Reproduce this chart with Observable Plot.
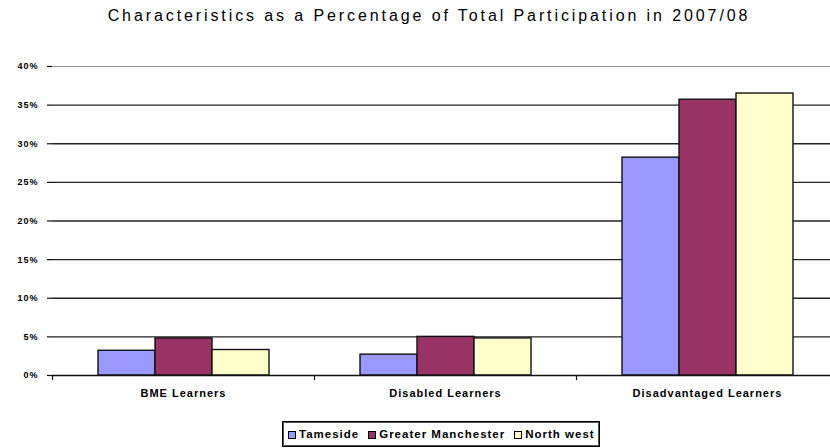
<!DOCTYPE html>
<html>
<head>
<meta charset="utf-8">
<script src="https://cdn.jsdelivr.net/npm/d3@7"></script>
<script src="https://cdn.jsdelivr.net/npm/@observablehq/plot@0.6"></script>
<style>
  html, body { margin: 0; padding: 0; background: #fff; overflow: hidden; }
  body { width: 830px; height: 448px; position: relative; font-family: "Liberation Sans", Arial, sans-serif; }
  #title { position: absolute; left: 14px; top: 7px; width: 830px; text-align: center; font-size: 16px; letter-spacing: 2.9px; color: #000; white-space: nowrap; }
  #chart { position: absolute; left: 0; top: 40px; }
  #legend { position: absolute; left: 282px; top: 421px; height: 24px; border: 1px solid #000; box-shadow: inset 0 0 0 1px #555; display: flex; align-items: center; padding: 0 4px 0 5px; font-weight: bold; font-size: 11.5px; letter-spacing: 1px; white-space: nowrap; }
  #legend .item { display: flex; align-items: flex-end; margin-right: 9px; }
  #legend .item:last-child { margin-right: 0; }
  #legend .sw { width: 6px; height: 6px; border: 1px solid #000; margin-right: 3px; margin-bottom: 1px; }
</style>
</head>
<body>
<div id="title"></div>
<div id="chart"></div>
<div id="legend"></div>
<script>
const titleText = "Characteristics as a Percentage of Total Participation in 2007/08";
const categories = ["BME Learners", "Disabled Learners", "Disadvantaged Learners"];
const series = ["Tameside", "Greater Manchester", "North west"];
const tameside = [3.2, 2.7, 28.2];
const greaterManchester = [4.8, 5.0, 35.7];
const northWest = [3.3, 4.8, 36.5];
const yTicks = [0, 5, 10, 15, 20, 25, 30, 35, 40];
const colors = ["#9999FF", "#993366", "#FFFFCC"];

const valuesBySeries = [tameside, greaterManchester, northWest];
const data = [];
categories.forEach((c, i) => {
  series.forEach((s, j) => data.push({category: c, series: s, value: valuesBySeries[j][i]}));
});

document.getElementById("title").textContent = titleText;

const W = 830, H = 370, mTop = 26, mBottom = 35, mLeft = 52, mRight = -8;
const plotH = H - mTop - mBottom;

const chart = Plot.plot({
  width: W,
  height: H,
  marginTop: mTop,
  marginBottom: mBottom,
  marginLeft: mLeft,
  marginRight: mRight,
  style: {fontFamily: "Liberation Sans, Arial, sans-serif", background: "transparent", overflow: "visible"},
  fx: {domain: categories, padding: 0},
  x: {domain: series, paddingInner: 0, paddingOuter: 0.76, axis: null},
  y: {domain: [0, 40]},
  color: {domain: series, range: colors},
  marks: [
    Plot.ruleY(yTicks.filter(t => t > 0 && t < 40), {stroke: "#222", strokeWidth: 1.3}),
    Plot.ruleY([40], {stroke: "#999", strokeWidth: 1}),
    Plot.barY(data, {fx: "category", x: "series", y: "value", fill: "series", stroke: "#111", strokeWidth: 1.4}),
    Plot.ruleY([0], {stroke: "#111", strokeWidth: 1.5}),
    Plot.frame({anchor: "left", insetTop: plotH, insetBottom: -4, stroke: "#111", strokeWidth: 1.2}),
    Plot.axisY({ticks: yTicks, tickFormat: d => d + "%", tickSize: 5, tickPadding: 9, line: true, label: null, fontWeight: "bold", fontSize: 9, stroke: "#111", strokeWidth: 1.2}),
    Plot.axisFx({anchor: "bottom", tickSize: 0, tickPadding: 14, label: null, fontWeight: "bold", fontSize: 11})
  ]
});
document.getElementById("chart").appendChild(chart);
d3.select(chart).selectAll("text").style("letter-spacing", "1px");

const legend = document.getElementById("legend");
series.forEach((s, i) => {
  const item = document.createElement("div");
  item.className = "item";
  const sw = document.createElement("div");
  sw.className = "sw";
  sw.style.background = colors[i];
  const t = document.createElement("span");
  t.textContent = s;
  item.appendChild(sw);
  item.appendChild(t);
  legend.appendChild(item);
});
</script>
</body>
</html>
